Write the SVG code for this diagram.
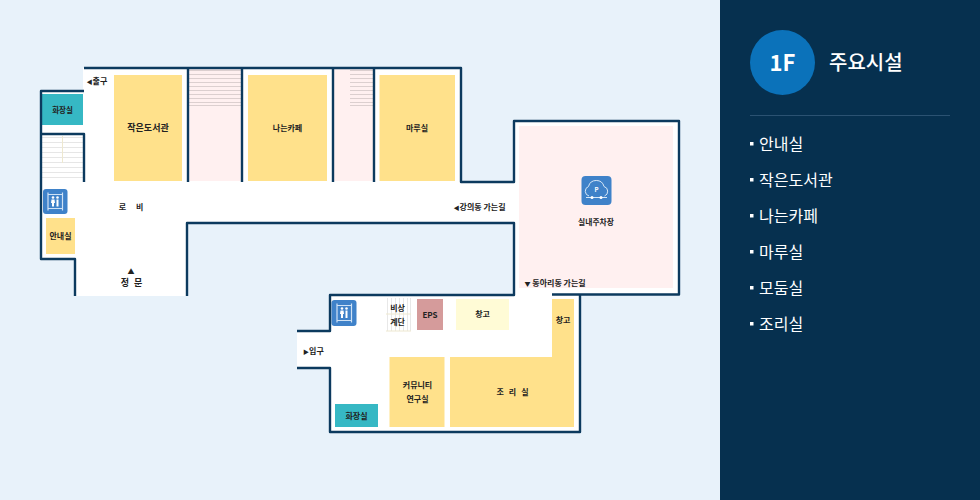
<svg xmlns="http://www.w3.org/2000/svg" width="980" height="500" viewBox="0 0 980 500">
<style>
text{font-family:"Noto Sans CJK KR","Noto Sans",sans-serif}
.l{font-size:8px;font-weight:700;fill:#222;text-anchor:middle}
.s{font-size:8px;font-weight:700;fill:#222}
.a{font-size:6px}
.big{font-size:9px;font-weight:700;fill:#222;text-anchor:middle}
.y{fill:#ffe18b}.t{fill:#36b8c4}.p{fill:#fff0f0}
.w{fill:none;stroke:#0c3a5e;stroke-width:2.4;stroke-linecap:butt;stroke-linejoin:round}
.st{stroke:#dccfcf;stroke-width:1}
.gr{stroke:#e6e6e6;stroke-width:1.2}
.ic{fill:#3f82c9}
.m{font-size:16px;fill:#fff}
.b{fill:#fff}
</style>
<rect width="980" height="500" fill="#e8f2fa"/>
<path d="M83 68H460V182H515V121H679V295H580V432H330V369H297V331H330V295H515V223H187V296H75V259H41V91H83Z" fill="#fff"/>

<g id="rooms">
<g id="library"><rect class="y" x="114" y="75" width="68" height="106"/><text class="big" x="148" y="131">작은도서관</text></g>
<g id="pink-stair-1"><rect class="p" x="189" y="69" width="52" height="112"/>
<path class="st" d="M189 70.500H241M189 74.500H241M189 78.500H241M189 82.500H241M189 86.500H241M189 90.500H241M189 94.500H241M189 98.500H241M189 102.500H241M189 105.500H241"/></g>
<g id="cafe"><rect class="y" x="248" y="75" width="79" height="106"/><text class="l" x="287.500" y="131">나는카페</text></g>
<g id="pink-stair-2"><rect class="p" x="334" y="69" width="39" height="112"/>
<path class="st" d="M350 70.500H373M350 74.500H373M350 78.500H373M350 82.500H373M350 86.500H373M350 90.500H373M350 94.500H373M350 98.500H373M350 102.500H373M350 105.500H373"/></g>
<g id="maru"><rect class="y" x="379.500" y="75" width="75.500" height="106"/><text class="l" x="417" y="131">마루실</text></g>
<g id="restroom-1"><rect class="t" x="42" y="94" width="41" height="31"/><text class="l" x="62.500" y="112.500" style="font-size:7.500px">화장실</text></g>
<g id="stair-left">
<path class="gr" d="M42 137.500H83M42 142.500H83M42 147.500H83M42 152.500H83M42 157.500H83M42 162.500H83M42 167.500H83M42 172.500H83M42 177.500H83"/>
<path d="M62.500 136V163" stroke="#eee8cf" stroke-width="1"/></g>
<g id="elevator-1"><rect class="ic" x="43" y="189" width="24.500" height="25" rx="3"/>
<path d="M48 192.500V210.500M62.500 192.500V210.500M48 194.500H62.500M48 208.500H62.500" stroke="#cfe2f5" stroke-width="1.200" fill="none"/>
<circle class="b" cx="53" cy="197.500" r="1.300"/><circle class="b" cx="57.500" cy="197.500" r="1.300"/><path class="b" d="M51.500 199.500h3l.5 3.500h-1v3.500h-2V203h-1zM56.500 199.500h2v7h-2z"/></g>
<g id="info"><rect class="y" x="46" y="218" width="29" height="36"/><text class="l" x="60.500" y="239">안내실</text></g>
<g id="parking"><rect class="p" x="519" y="126" width="154" height="162"/>
<rect class="ic" x="581.500" y="176" width="30" height="29" rx="4"/>
<path d="M589 196a5 5 0 0 1-.5-9.500a8 8 0 0 1 15.500 0a5 5 0 0 1 .5 9.500" fill="none" stroke="#d7e7f7" stroke-width="1"/>
<path d="M586 197.500H607" stroke="#d7e7f7" stroke-width="1"/><circle class="b" cx="592" cy="197.500" r="1.500"/><circle class="b" cx="601" cy="197.500" r="1.500"/>
<text x="596.500" y="191.500" text-anchor="middle" style="font-size:6px;font-weight:700;fill:#fff">P</text>
<text class="l" x="596" y="225" style="font-size:7.800px">실내주차장</text></g>
<g id="elevator-2"><rect class="ic" x="331.500" y="300" width="25" height="26" rx="3"/>
<path d="M337 303.500V322.500M351.500 303.500V322.500M337 305.500H351.500M337 320.500H351.500" stroke="#cfe2f5" stroke-width="1.200" fill="none"/>
<circle class="b" cx="342" cy="308.500" r="1.300"/><circle class="b" cx="346.500" cy="308.500" r="1.300"/><path class="b" d="M340.500 310.500h3l.5 3.500h-1v4h-2v-4h-1zM345.500 310.500h2v7.500h-2z"/></g>
<g id="stair-emergency">
<path d="M387.500 298V331M391.500 298V331M395.500 298V331M399.500 298V331M403.500 298V331M407.500 298V331M410.500 298V331" stroke="#e8e8e8" stroke-width="1"/>
<path d="M386 314H411M386 331H411" stroke="#eee8cf" stroke-width="1"/>
<text class="l" x="397.500" y="311">비상</text><text class="l" x="397.500" y="325">계단</text></g>
<g id="eps"><rect x="417" y="299" width="26" height="31" fill="#d59b9b"/><text class="l" x="430" y="318">EPS</text></g>
<g id="storage"><rect x="456" y="299" width="53" height="31" fill="#fffbd6"/><text class="l" x="482.500" y="317">창고</text></g>
<g id="kitchen"><path class="y" d="M552 299H574V427H450V357H552Z"/><text class="l" x="563" y="323">창고</text><text class="l" x="515" y="395" style="letter-spacing:5px">조리실</text></g>
<g id="community"><rect class="y" x="389.500" y="357" width="55" height="70"/><text class="l" x="417.500" y="388">커뮤니티</text><text class="l" x="417.500" y="402">연구실</text></g>
<g id="restroom-2"><rect class="t" x="335" y="404" width="43" height="23"/><text class="l" x="356.500" y="418.500">화장실</text></g>
</g>

<g id="labels">
<text class="s" x="86.500" y="84"><tspan class="a">◀</tspan>출구</text>
<text class="l" x="136" y="210" style="letter-spacing:10px">로비</text>
<text class="l" x="131" y="273.500" style="font-size:7px">▲</text>
<text class="l" x="134" y="286" style="font-size:9px;letter-spacing:5px">정문</text>
<text class="s" x="453.500" y="210"><tspan class="a">◀</tspan>강의동 가는길</text>
<text class="s" x="524.500" y="286"><tspan class="a">▼</tspan> 동아리동 가는길</text>
<text class="s" x="303" y="354"><tspan class="a">▶</tspan>입구</text>
</g>

<g id="connectors">
<path class="w" d="M84 68H461V182H514V121H679V294.500H552"/>
<path class="w" d="M84 91H41V259H75V296"/>
<path class="w" d="M41 134H84V182"/>
<path class="w" d="M188 68V182M242 68V182M333 68V182M374 68V182"/>
<path class="w" d="M187 296V223H514V295H330V331H297"/>
<path class="w" d="M297 368H330V432H580V295"/>
</g>

<g id="sidebar">
<rect x="720" width="260" height="500" fill="#06304f"/>
<g id="badge"><circle cx="782.500" cy="62.500" r="32.500" fill="#0b72ba"/><text x="782.500" y="71" text-anchor="middle" style="font-size:22px;font-weight:700;fill:#fff">1F</text></g>
<text x="829" y="70" style="font-size:20px;font-weight:500;fill:#fff">주요시설</text>
<path d="M750 115.500H950" stroke="#2b5272"/>
<rect class="b" x="750" y="142" width="3.500" height="3.500"/><text class="m" x="759" y="149.500">안내실</text>
<rect class="b" x="750" y="178" width="3.500" height="3.500"/><text class="m" x="759" y="185.500">작은도서관</text>
<rect class="b" x="750" y="214" width="3.500" height="3.500"/><text class="m" x="759" y="221.500">나는카페</text>
<rect class="b" x="750" y="250" width="3.500" height="3.500"/><text class="m" x="759" y="257.500">마루실</text>
<rect class="b" x="750" y="286" width="3.500" height="3.500"/><text class="m" x="759" y="293.500">모둠실</text>
<rect class="b" x="750" y="322" width="3.500" height="3.500"/><text class="m" x="759" y="329.500">조리실</text>
</g>
</svg>
